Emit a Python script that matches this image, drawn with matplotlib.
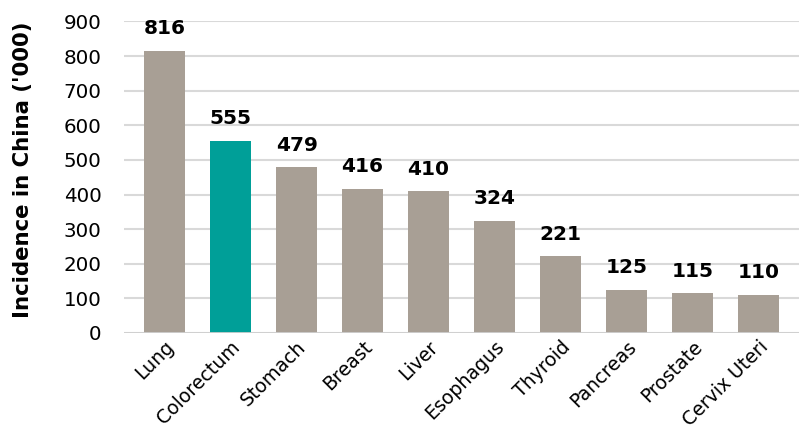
import numpy as np
import matplotlib.pyplot as plt

cancers = ['Lung', 'Colorectum', 'Stomach', 'Breast', 'Liver', 'Esophagus',
           'Thyroid', 'Pancreas', 'Prostate', 'Cervix Uteri']
incidence = [816, 555, 479, 416, 410, 324, 221, 125, 115, 110]
highlight = 'Colorectum'

GRAY = '#a89f95'
TEAL = '#009f98'

plt.rcParams['font.family'] = 'DejaVu Sans'

fig = plt.figure(figsize=(7.99, 4.29), dpi=100)
ax = fig.add_axes([0.1552, 0.2238, 0.8448, 0.7262])

x = np.arange(len(cancers))
colors = [TEAL if c == highlight else GRAY for c in cancers]
bars = ax.bar(x, incidence, width=0.62, color=colors, zorder=2)

for b, v in zip(bars, incidence):
    ax.annotate(str(v), (b.get_x() + b.get_width() / 2, v),
                xytext=(0, 9), textcoords='offset points',
                ha='center', va='bottom', fontsize=14.5, fontweight='bold')

ax.set_ylim(0, 900)
ax.set_xlim(-0.614, 9.61)
ax.set_yticks(range(0, 901, 100))
ax.yaxis.grid(True, color='#d9d9d9', linewidth=1.5, zorder=0)
ax.axhline(0, color='#d0d0d0', linewidth=2, zorder=3)

ax.set_xticks(x)
ax.set_xticklabels(cancers, rotation=45, ha='right', rotation_mode='anchor')
ax.tick_params(axis='both', length=0, labelsize=14.3)
ax.tick_params(axis='x', labelsize=13.6)
ax.tick_params(axis='y', pad=16)
ax.tick_params(axis='x', pad=3)

for s in ax.spines.values():
    s.set_visible(False)

ax.set_ylabel("Incidence in China ('000)", fontsize=15.3, fontweight='bold')
ax.yaxis.set_label_coords(-0.135, 0.523)

fig.savefig('out.png', dpi=100)
